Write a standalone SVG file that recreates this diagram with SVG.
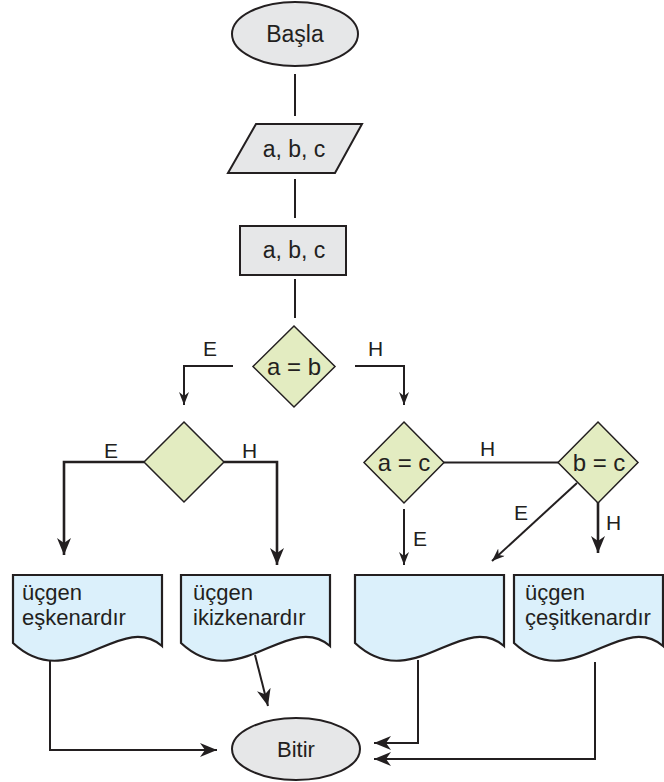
<svg xmlns="http://www.w3.org/2000/svg" width="664" height="782" viewBox="0 0 664 782">
<style>
.t{font-family:"Liberation Sans",Arial,sans-serif;fill:#231f20}
.gray{fill:#e6e7e8;stroke:#231f20;stroke-width:2}
.dia{fill:#e3ecc1;stroke:#231f20;stroke-width:1.5}
.doc{fill:#dbf0fb;stroke:#231f20;stroke-width:2.2}
.ln{fill:none;stroke:#231f20;stroke-width:2}
.lnb{fill:none;stroke:#231f20;stroke-width:2.6}
.lbl{font-size:21px}
.nd{font-size:22px}
.top{font-size:23px}
.dt{font-size:24px}
</style>
<defs>
<marker id="as" markerUnits="userSpaceOnUse" markerWidth="14" markerHeight="10" refX="13" refY="5" orient="auto">
<path d="M0,0 L13,5 L0,10 L4,5 Z" fill="#231f20"/>
</marker>
<marker id="al" markerUnits="userSpaceOnUse" markerWidth="18" markerHeight="14" refX="17" refY="7" orient="auto">
<path d="M0,0 L17,7 L0,14 L5,7 Z" fill="#231f20"/>
</marker>
<path id="docshape" d="M0,0 H149 V71 C107,35 57,121 0,68 Z"/>
</defs>

<g id="connectors">
<line class="ln" x1="295" y1="74" x2="295" y2="116"/>
<line class="ln" x1="295" y1="179" x2="295" y2="218"/>
<line class="ln" x1="295" y1="279" x2="295" y2="318"/>
<polyline class="ln" points="233,366 184,366 184,405" marker-end="url(#as)"/>
<polyline class="ln" points="355,366 404,366 404,405" marker-end="url(#as)"/>
<polyline class="lnb" points="144,462 64,462 64,555" marker-end="url(#al)"/>
<polyline class="lnb" points="224,462 277,462 277,565" marker-end="url(#al)"/>
<line class="ln" x1="444" y1="462.5" x2="558" y2="462.5"/>
<line class="ln" x1="404" y1="509" x2="404" y2="565" marker-end="url(#as)"/>
<line class="ln" x1="577" y1="483" x2="492" y2="561" marker-end="url(#as)"/>
<line class="lnb" x1="598" y1="502" x2="598" y2="553" marker-end="url(#al)"/>
<line class="ln" x1="255" y1="655" x2="268" y2="706" marker-end="url(#al)"/>
<polyline class="ln" points="50,661 50,750 217,750" marker-end="url(#al)"/>
<polyline class="ln" points="418,660 418,743 374,743" marker-end="url(#al)"/>
<polyline class="ln" points="595,662 595,759 374,759" marker-end="url(#al)"/>
<text class="t lbl" x="203" y="356">E</text>
<text class="t lbl" x="368" y="356">H</text>
<text class="t lbl" x="104" y="458">E</text>
<text class="t lbl" x="242" y="458">H</text>
<text class="t lbl" x="480" y="456">H</text>
<text class="t lbl" x="514" y="520">E</text>
<text class="t lbl" x="606" y="530">H</text>
<text class="t lbl" x="413" y="546">E</text>
</g>

<g id="start">
<ellipse class="gray" cx="295" cy="34" rx="63" ry="32"/>
<text class="t top" x="295" y="42" text-anchor="middle">Başla</text>
</g>
<g id="input">
<polygon class="gray" points="256,124 362,124 335,173 228,173"/>
<text class="t top" x="294" y="157" text-anchor="middle">a, b, c</text>
</g>
<g id="process">
<rect class="gray" x="240" y="226" width="106" height="49"/>
<text class="t top" x="294" y="258" text-anchor="middle">a, b, c</text>
</g>
<g id="d_ab">
<polygon class="dia" points="294,326 335,366.5 294,407 253,366.5"/>
<text class="t dt" x="294" y="375" text-anchor="middle">a = b</text>
</g>
<g id="d_empty">
<polygon class="dia" points="184,422 224,462 184,502 144,462"/>
</g>
<g id="d_ac">
<polygon class="dia" points="404,422 444,462.5 404,503 364,462.5"/>
<text class="t dt" x="404" y="471" text-anchor="middle">a = c</text>
</g>
<g id="d_bc">
<polygon class="dia" points="598,422 638,462.5 598,503 558,462.5"/>
<text class="t dt" x="599" y="471" text-anchor="middle">b = c</text>
</g>
<g id="doc1">
<use href="#docshape" class="doc" x="13" y="575"/>
<text class="t nd" x="22" y="600">üçgen</text>
<text class="t nd" x="22" y="625">eşkenardır</text>
</g>
<g id="doc2">
<use href="#docshape" class="doc" x="181" y="575"/>
<text class="t nd" x="193" y="600">üçgen</text>
<text class="t nd" x="193" y="625">ikizkenardır</text>
</g>
<g id="doc3">
<use href="#docshape" class="doc" x="355" y="575"/>
</g>
<g id="doc4">
<use href="#docshape" class="doc" x="514" y="575"/>
<text class="t nd" x="525" y="600">üçgen</text>
<text class="t nd" x="525" y="625">çeşitkenardır</text>
</g>
<g id="end">
<ellipse class="gray" cx="296" cy="749" rx="64" ry="31"/>
<text class="t nd" x="296" y="757" text-anchor="middle">Bitir</text>
</g>
</svg>
